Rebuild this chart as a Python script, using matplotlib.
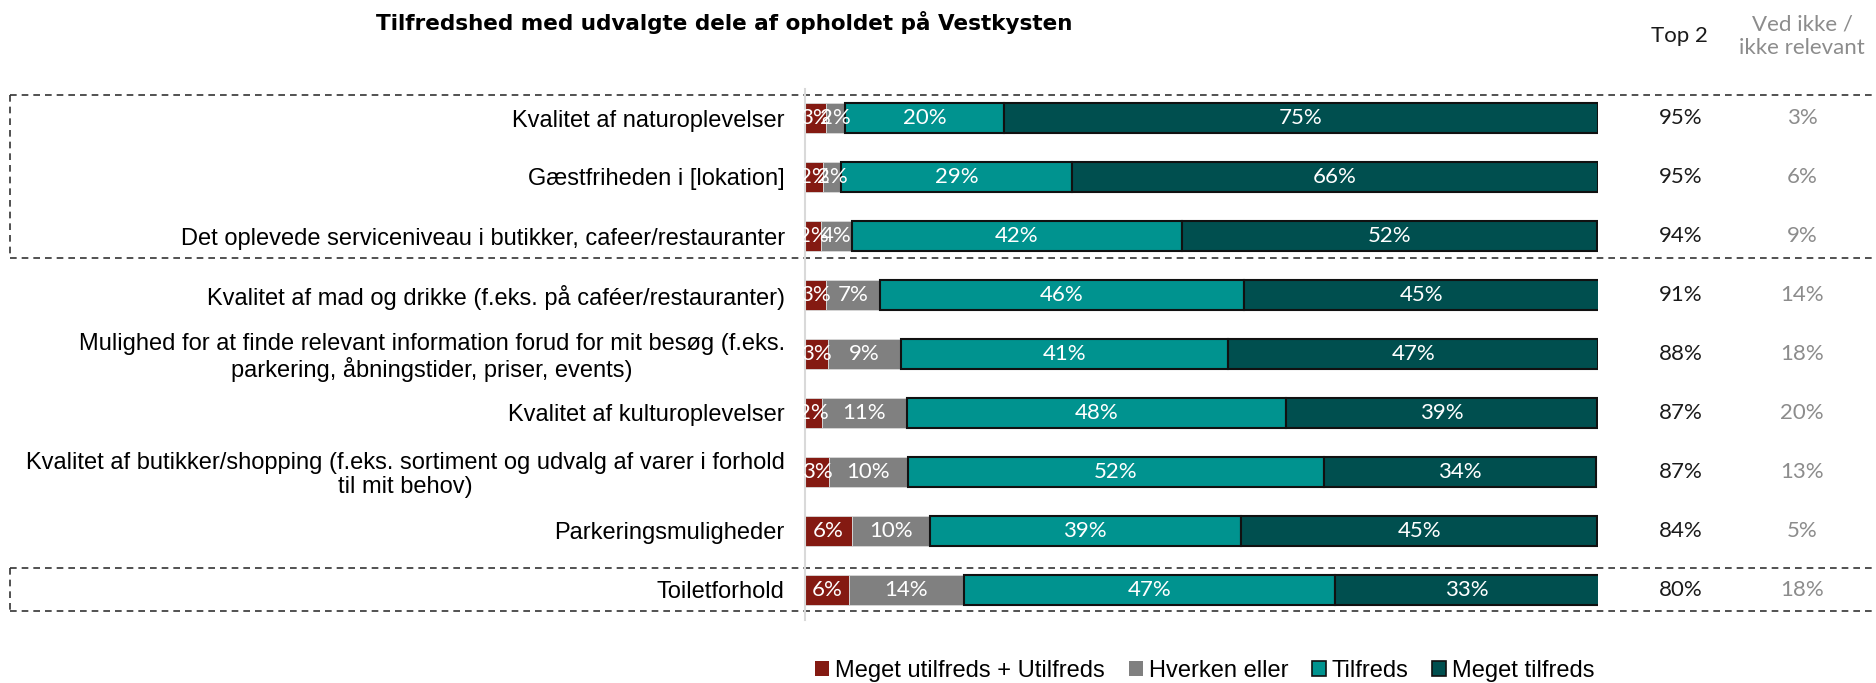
import matplotlib
matplotlib.use("Agg")
import matplotlib.pyplot as plt
import matplotlib.transforms as mtransforms
from matplotlib.patches import Patch
import numpy as np

categories = [
    "Kvalitet af naturoplevelser",
    "Gæstfriheden i [lokation]",
    "Det oplevede serviceniveau i butikker, cafeer/restauranter",
    "Kvalitet af mad og drikke (f.eks. på caféer/restauranter)",
    "Mulighed for at finde relevant information forud for mit besøg (f.eks.\nparkering, åbningstider, priser, events)",
    "Kvalitet af kulturoplevelser",
    "Kvalitet af butikker/shopping (f.eks. sortiment og udvalg af varer i forhold\ntil mit behov)",
    "Parkeringsmuligheder",
    "Toiletforhold",
]
utilfreds = [2.6, 2.3, 2.0, 2.6, 2.9, 2.1, 3.0, 5.9, 5.6]
hverken = [2.4, 2.3, 3.9, 6.9, 9.2, 10.7, 10.0, 9.8, 14.4]
tilfreds = [20.1, 29.1, 41.6, 45.8, 41.3, 47.9, 52.4, 39.3, 46.8]
meget_tilfreds = [74.9, 66.3, 52.4, 44.9, 46.6, 39.2, 34.4, 44.9, 33.4]
top2 = [95, 95, 94, 91, 88, 87, 87, 84, 80]
ved_ikke = [3, 6, 9, 14, 18, 20, 13, 5, 18]
series_names = ["Meget utilfreds + Utilfreds", "Hverken eller", "Tilfreds", "Meget tilfreds"]
colors = ["#841A12", "#808080", "#00938F", "#004F4F"]
edges = ["#D9D9D9", "#D9D9D9", "#111111", "#111111"]

W, H = 1876, 683
fig = plt.figure(figsize=(W / 100, H / 100), dpi=100)
ax = fig.add_axes([805 / W, 1 - 619.5 / H, 793 / W, 531 / H])

num_font = "Lato"
y = np.arange(len(categories))
left = np.zeros(len(categories))
for vals, c, ec, name in zip([utilfreds, hverken, tilfreds, meget_tilfreds], colors, edges, series_names):
    vals = np.array(vals)
    lw = 0.6 if ec.startswith("#D") else 1.5
    ax.barh(y, vals, left=left, height=0.5, color=c, edgecolor=ec, linewidth=lw, label=name)
    for i, v in enumerate(vals):
        ax.text(left[i] + v / 2, y[i], f"{v:.0f}%", ha="center", va="center",
                color="white", fontsize=16, family=num_font)
    left += vals

ax.set_xlim(0, 100)
ax.set_ylim(len(categories) - 0.5, -0.5)
ax.set_xticks([])
ax.set_yticks(y)
ax.set_yticklabels(categories, fontsize=17, family="Liberation Sans", ha="right",
                   multialignment="center", linespacing=1.1)
ax.tick_params(axis="y", length=0, pad=14.5)
for s in ["top", "right", "bottom"]:
    ax.spines[s].set_visible(False)
ax.spines["left"].set_color("#D9D9D9")
ax.spines["left"].set_linewidth(1.5)

# right hand columns
tr = mtransforms.blended_transform_factory(fig.transFigure, ax.transData)
for i in range(len(categories)):
    ax.text(1681 / W, y[i], f"{top2[i]}%", transform=tr, ha="center", va="center",
            fontsize=16, family=num_font, color="#1A1A1A")
    ax.text(1802 / W, y[i], f"{ved_ikke[i]}%", transform=tr, ha="center", va="center",
            fontsize=16, family=num_font, color="#8C8C8C")
fig.text(1679 / W, 1 - 36 / H, "Top 2", ha="center", va="center", fontsize=16, family=num_font, color="#1A1A1A")
fig.text(1802 / W, 1 - 36 / H, "Ved ikke /\nikke relevant", ha="center", va="center", fontsize=16,
         family=num_font, color="#8C8C8C", linespacing=1.2)

# dashed group boxes
x0 = 10 / W
dash = dict(color="#333333", linestyle=(0, (4, 3)), linewidth=1.2, transform=tr, clip_on=False)
for yy in [-0.39, 2.37, 7.63, 8.36]:
    ax.plot([x0, 1.0], [yy, yy], **dash)
ax.plot([x0, x0], [-0.39, 2.37], **dash)
ax.plot([x0, x0], [7.63, 8.36], **dash)

fig.text(724 / W, 1 - 22 / H, "Tilfredshed med udvalgte dele af opholdet på Vestkysten",
         ha="center", va="center", fontsize=15.5, fontweight="bold", family="DejaVu Sans")

handles = [Patch(facecolor=c, edgecolor=("none" if ec.startswith("#D") else ec), linewidth=1.2)
           for c, ec in zip(colors, edges)]
fig.legend(handles, series_names, loc="center", bbox_to_anchor=(1205 / W, 12 / H), ncol=4, frameon=False,
           prop={"family": "Liberation Sans", "size": 17}, handlelength=0.6, handleheight=0.6,
           handletextpad=0.25, columnspacing=1.0)

fig.savefig("out.png", dpi=100)
